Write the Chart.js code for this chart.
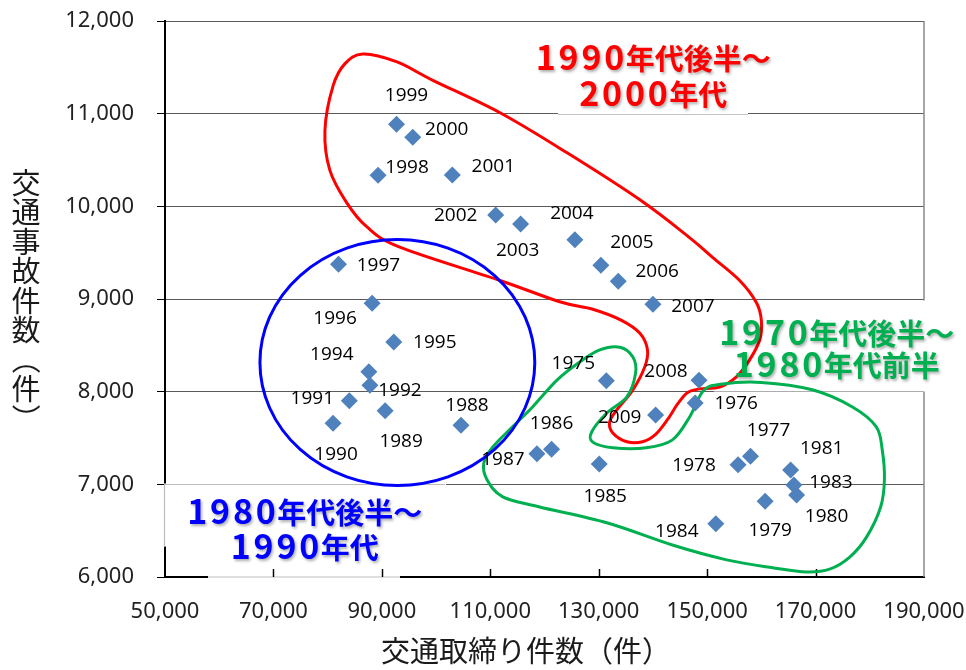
<!DOCTYPE html>
<html lang="ja">
<head>
<meta charset="utf-8">
<title>交通取締り件数と交通事故件数</title>
<script src="https://cdn.jsdelivr.net/npm/chart.js@4/dist/chart.umd.min.js"></script>
<style>
  html, body { margin: 0; padding: 0; background: #fff; }
  canvas { display: block; }
</style>
</head>
<body>
<canvas id="chart" width="966" height="670"></canvas>
<script>
// ---- data: one point per year ----
const years = [1975, 1976, 1977, 1978, 1979, 1980, 1981, 1983, 1984, 1985, 1986, 1987,
               1988, 1989, 1990, 1991, 1992, 1994, 1995, 1996, 1997, 1998, 1999, 2000,
               2001, 2002, 2003, 2004, 2005, 2006, 2007, 2008, 2009];
// 交通取締り件数（件）
const enforcement = [131400, 147800, 158000, 155700, 160700, 166500, 165400, 166000, 151600, 130100, 121300, 118600,
                     104600, 90600, 81000, 84000, 87800, 87600, 92200, 88200, 82000, 89300, 92700, 95700,
                     103000, 111000, 115600, 125600, 130400, 133600, 140000, 148500, 140500];
// 交通事故件数（件）
const accidents = [8119, 7878, 7303, 7212, 6817, 6885, 7155, 6993, 6575, 7220, 7378, 7331,
                   7637, 7795, 7659, 7903, 8069, 8216, 8536, 8954, 9375, 10335, 10885, 10745,
                   10338, 9907, 9809, 9640, 9364, 9191, 8943, 8123, 7748];

const xTickValues = [50000, 70000, 90000, 110000, 130000, 150000, 170000, 190000];
const yTickValues = [6000, 7000, 8000, 9000, 10000, 11000, 12000];

const xTitle = '交通取締り件数（件）';
const yTitle = '交通事故件数（件）';

// period groupings, outlined by hand-drawn loops (axis units)
const groups = [
  { lines: ['1990年代後半～', '2000年代'], color: '#FF0000' },
  { lines: ['1980年代後半～', '1990年代'], color: '#0000FF' },
  { lines: ['1970年代後半～', '1980年代前半'], color: '#00B050' }
];
const loop1990s = [[86500,11644],[92800,11558],[99400,11360],[111800,11010],[124100,10580],[137600,10070],[146800,9660],
  [151000,9450],[156000,9200],[159100,8960],[160000,8770],[159700,8560],[157800,8340],[155400,8160],
  [152300,8050],[148600,8030],[146400,7990],[144600,7870],[142700,7700],[140500,7540],[138100,7460],
  [135200,7460],[132600,7555],[132000,7670],[133300,7800],[136300,8020],[138500,8270],[139000,8450],
  [137600,8630],[134200,8770],[128900,8890],[122800,8970],[111800,9200],[93300,9560],[87200,9780],
  [83500,10040],[80400,10390],[79500,10820],[81000,11300],[83200,11540]];
const loop1970s = [[133900,8480],[136300,8375],[136800,8200],[135200,7945],[131500,7770],[128700,7565],
  [128900,7455],[132600,7395],[138800,7395],[143600,7480],[146800,7730],[149300,8010],[152500,8080],
  [160000,8100],[169400,8020],[176800,7835],[181200,7620],[182300,7370],[182700,7050],[182000,6755],
  [179400,6430],[176300,6215],[172600,6085],[168300,6055],[162100,6100],[153600,6185],[143600,6345],
  [131500,6585],[119100,6755],[112300,6865],[109400,7050],[108800,7230],[110500,7405],[114100,7620],
  [117800,7835],[122300,8125],[126500,8320],[130200,8450]];
const ellipse1980s = { cx: 92860, cy: 8315, rx: 25350, ry: 1327 };

// ---- presentation ----
const POINT_COLOR = '#4F81BD';
const TICK_FONT = "'Noto Sans', 'Liberation Sans', sans-serif";
const JP_FONT = "'Noto Sans CJK JP', sans-serif";
const LABEL_FONT = "'Open Sans', 'Noto Sans', sans-serif";

// year label placement around each marker [dx, dy] in px
const labelPlacement = {
  1975:[-33,-17], 1976:[41,1], 1977:[18,-26], 1978:[-44,1], 1979:[5,29], 1980:[30,22],
  1981:[31,-21], 1983:[37,-2], 1984:[-39,8], 1985:[6,33], 1986:[0,-26], 1987:[-34,6],
  1988:[6,-20], 1989:[16,31], 1990:[3,31], 1991:[-37,-2], 1992:[30,5], 1994:[-37,-17],
  1995:[41,1], 1996:[-37,15], 1997:[40,1], 1998:[29,-8], 1999:[10,-29], 2000:[34,-8],
  2001:[41,-8], 2002:[-40,1], 2003:[-3,27], 2004:[-3,-26], 2005:[31,-23], 2006:[39,-10],
  2007:[40,2], 2008:[-33,-9], 2009:[-36,3]
};
// caption blocks: centre x and baselines of the two lines
const captionPlacement = [
  { cx: 652.5, baselines: [70, 106] },
  { cx: 304,   baselines: [524, 559] },
  { cx: 836,   baselines: [345, 377] }
];

// closed Catmull-Rom curve through pixel points
function closedCurve(ctx, pts) {
  const n = pts.length;
  ctx.beginPath();
  ctx.moveTo(pts[0][0], pts[0][1]);
  for (let i = 0; i < n; i++) {
    const p0 = pts[(i - 1 + n) % n], p1 = pts[i], p2 = pts[(i + 1) % n], p3 = pts[(i + 2) % n];
    ctx.bezierCurveTo(
      p1[0] + (p2[0] - p0[0]) / 6, p1[1] + (p2[1] - p0[1]) / 6,
      p2[0] - (p3[0] - p1[0]) / 6, p2[1] - (p3[1] - p1[1]) / 6,
      p2[0], p2[1]);
  }
  ctx.closePath();
}

// caption line in a rounded-gothic look: wide digits, full-width kana/kanji
function captionLine(ctx, text, cx, baseline, color, size) {
  const chars = Array.from(text);
  const isDigit = c => /[0-9]/.test(c);
  const adv = chars.map(c => isDigit(c) ? size * 0.79 : size);
  const total = adv.reduce((a, b) => a + b, 0);
  let x = cx - total / 2;
  ctx.fillStyle = color;
  ctx.textAlign = 'center';
  ctx.textBaseline = 'alphabetic';
  chars.forEach((c, i) => {
    ctx.font = 'bold ' + (isDigit(c) ? size * 1.17 : size) + 'px ' + JP_FONT;
    ctx.fillText(c, x + adv[i] / 2, baseline);
    x += adv[i];
  });
}

const decorations = {
  id: 'decorations',
  beforeDatasetsDraw(chart) {
    const ctx = chart.ctx, area = chart.chartArea;
    const xs = chart.scales.x, ys = chart.scales.y;
    ctx.save();
    // right frame
    ctx.strokeStyle = '#8a8a8a';
    ctx.lineWidth = 1.5;
    ctx.beginPath();
    ctx.moveTo(area.right, area.top);
    ctx.lineTo(area.right, area.bottom);
    ctx.stroke();

    // caption boxes sitting on the plot
    const y11 = Math.round(ys.getPixelForValue(11000)) + 0.5;
    ctx.strokeStyle = '#fff'; ctx.lineWidth = 3;
    ctx.beginPath(); ctx.moveTo(558, y11); ctx.lineTo(748, y11); ctx.stroke();
    ctx.strokeStyle = '#c4c4c4'; ctx.lineWidth = 1;
    ctx.beginPath(); ctx.moveTo(558, y11); ctx.lineTo(748, y11); ctx.stroke();

    const y7 = Math.round(ys.getPixelForValue(7000)) + 0.5;
    ctx.fillStyle = '#fff';
    ctx.fillRect(area.left - 1, y7 - 1, 282, 63);
    ctx.fillRect(208, y7 + 62, 192, area.bottom - y7 - 60);
    ctx.strokeStyle = '#bdbdbd'; ctx.lineWidth = 1.2;
    ctx.beginPath();
    ctx.moveTo(area.left - 0.5, y7 + 62);
    ctx.lineTo(area.left - 0.5, y7);
    ctx.lineTo(area.left + 280, y7);
    ctx.stroke();
    ctx.beginPath();
    ctx.moveTo(208, area.bottom); ctx.lineTo(400, area.bottom);
    ctx.stroke();

    const y9 = Math.round(ys.getPixelForValue(9000)) + 0.5;
    const y8 = Math.round(ys.getPixelForValue(8000)) + 0.5;
    ctx.fillStyle = '#fff';
    ctx.fillRect(714, y9 + 1, 250, y8 - y9 - 2);

    // inner tick marks on the horizontal axis
    ctx.strokeStyle = '#000'; ctx.lineWidth = 1.5;
    xTickValues.slice(1, -1).forEach(v => {
      const px = Math.round(xs.getPixelForValue(v)) + 0.5;
      ctx.beginPath(); ctx.moveTo(px, area.bottom); ctx.lineTo(px, area.bottom - 8); ctx.stroke();
    });

    // group outlines
    ctx.lineWidth = 3;
    ctx.lineJoin = 'round';
    const toPx = pts => pts.map(p => [xs.getPixelForValue(p[0]), ys.getPixelForValue(p[1])]);
    ctx.strokeStyle = groups[0].color;
    closedCurve(ctx, toPx(loop1990s)); ctx.stroke();
    ctx.strokeStyle = groups[2].color;
    closedCurve(ctx, toPx(loop1970s)); ctx.stroke();
    const ecx = xs.getPixelForValue(ellipse1980s.cx), ecy = ys.getPixelForValue(ellipse1980s.cy);
    const erx = xs.getPixelForValue(ellipse1980s.cx + ellipse1980s.rx) - ecx;
    const ery = ecy - ys.getPixelForValue(ellipse1980s.cy + ellipse1980s.ry);
    ctx.strokeStyle = groups[1].color;
    ctx.beginPath(); ctx.ellipse(ecx, ecy, erx, ery, 0, 0, Math.PI * 2); ctx.stroke();
    ctx.restore();
  },
  afterDatasetsDraw(chart) {
    const ctx = chart.ctx;
    const meta = chart.getDatasetMeta(0);
    ctx.save();
    // year labels
    ctx.font = '19px ' + LABEL_FONT;
    ctx.fillStyle = '#000';
    ctx.textAlign = 'center';
    ctx.textBaseline = 'middle';
    meta.data.forEach((pt, i) => {
      const off = labelPlacement[years[i]] || [0, -22];
      ctx.fillText(String(years[i]), pt.x + off[0], pt.y + off[1]);
    });

    // group captions
    ctx.shadowColor = 'rgba(0,0,0,0.32)';
    ctx.shadowBlur = 3;
    ctx.shadowOffsetX = 1.5;
    ctx.shadowOffsetY = 1.5;
    groups.forEach((g, gi) => {
      const pl = captionPlacement[gi];
      g.lines.forEach((line, li) => captionLine(ctx, line, pl.cx, pl.baselines[li], g.color, 29));
    });
    ctx.restore();

    // axis titles
    ctx.save();
    ctx.fillStyle = '#1a1a1a';
    ctx.font = '29px ' + JP_FONT;
    ctx.textAlign = 'center';
    ctx.textBaseline = 'middle';
    ctx.fillText(xTitle, 526, 651);
    Array.from(yTitle).forEach((c, i) => {
      const cy = 182.5 + i * 29.5;
      if (c === '（' || c === '）') {
        ctx.save();
        ctx.translate(26, cy);
        ctx.rotate(Math.PI / 2);
        ctx.fillText(c, 0, 0);
        ctx.restore();
      } else {
        ctx.fillText(c, 26, cy);
      }
    });
    ctx.restore();
  }
};

const fmt = v => Number(v).toLocaleString('en-US');

new Chart(document.getElementById('chart'), {
  type: 'scatter',
  data: {
    datasets: [{
      data: years.map((yr, i) => ({ x: enforcement[i], y: accidents[i] })),
      pointStyle: 'rectRot',
      pointRadius: 8.5,
      pointHoverRadius: 8.5,
      backgroundColor: POINT_COLOR,
      borderColor: POINT_COLOR,
      borderWidth: 0
    }]
  },
  options: {
    responsive: false,
    animation: false,
    devicePixelRatio: 1,
    layout: { padding: { top: 21, right: 42, bottom: 0, left: 0 } },
    plugins: { legend: { display: false }, tooltip: { enabled: false } },
    events: [],
    scales: {
      x: {
        type: 'linear',
        min: xTickValues[0],
        max: xTickValues[xTickValues.length - 1],
        afterBuildTicks: s => { s.ticks = xTickValues.map(v => ({ value: v })); },
        afterFit: s => { s.height = 93; s.paddingLeft = 0; s.paddingRight = 0; },
        ticks: {
          font: { family: TICK_FONT, size: 22 },
          color: '#222',
          padding: 22,
          maxRotation: 0,
          autoSkip: false,
          callback: fmt
        },
        grid: { display: false, drawTicks: false },
        border: { display: true, color: '#000', width: 2 }
      },
      y: {
        type: 'linear',
        min: yTickValues[0],
        max: yTickValues[yTickValues.length - 1],
        afterBuildTicks: s => { s.ticks = yTickValues.map(v => ({ value: v })); },
        afterFit: s => { s.width = 165; s.paddingTop = 0; s.paddingBottom = 0; },
        ticks: {
          font: { family: TICK_FONT, size: 22 },
          color: '#222',
          padding: 23,
          callback: fmt
        },
        grid: { color: '#5a5a5a', lineWidth: 1, tickLength: 8, tickColor: '#000', drawTicks: true },
        border: { display: true, color: '#000', width: 2 }
      }
    }
  },
  plugins: [decorations]
});
</script>
</body>
</html>
